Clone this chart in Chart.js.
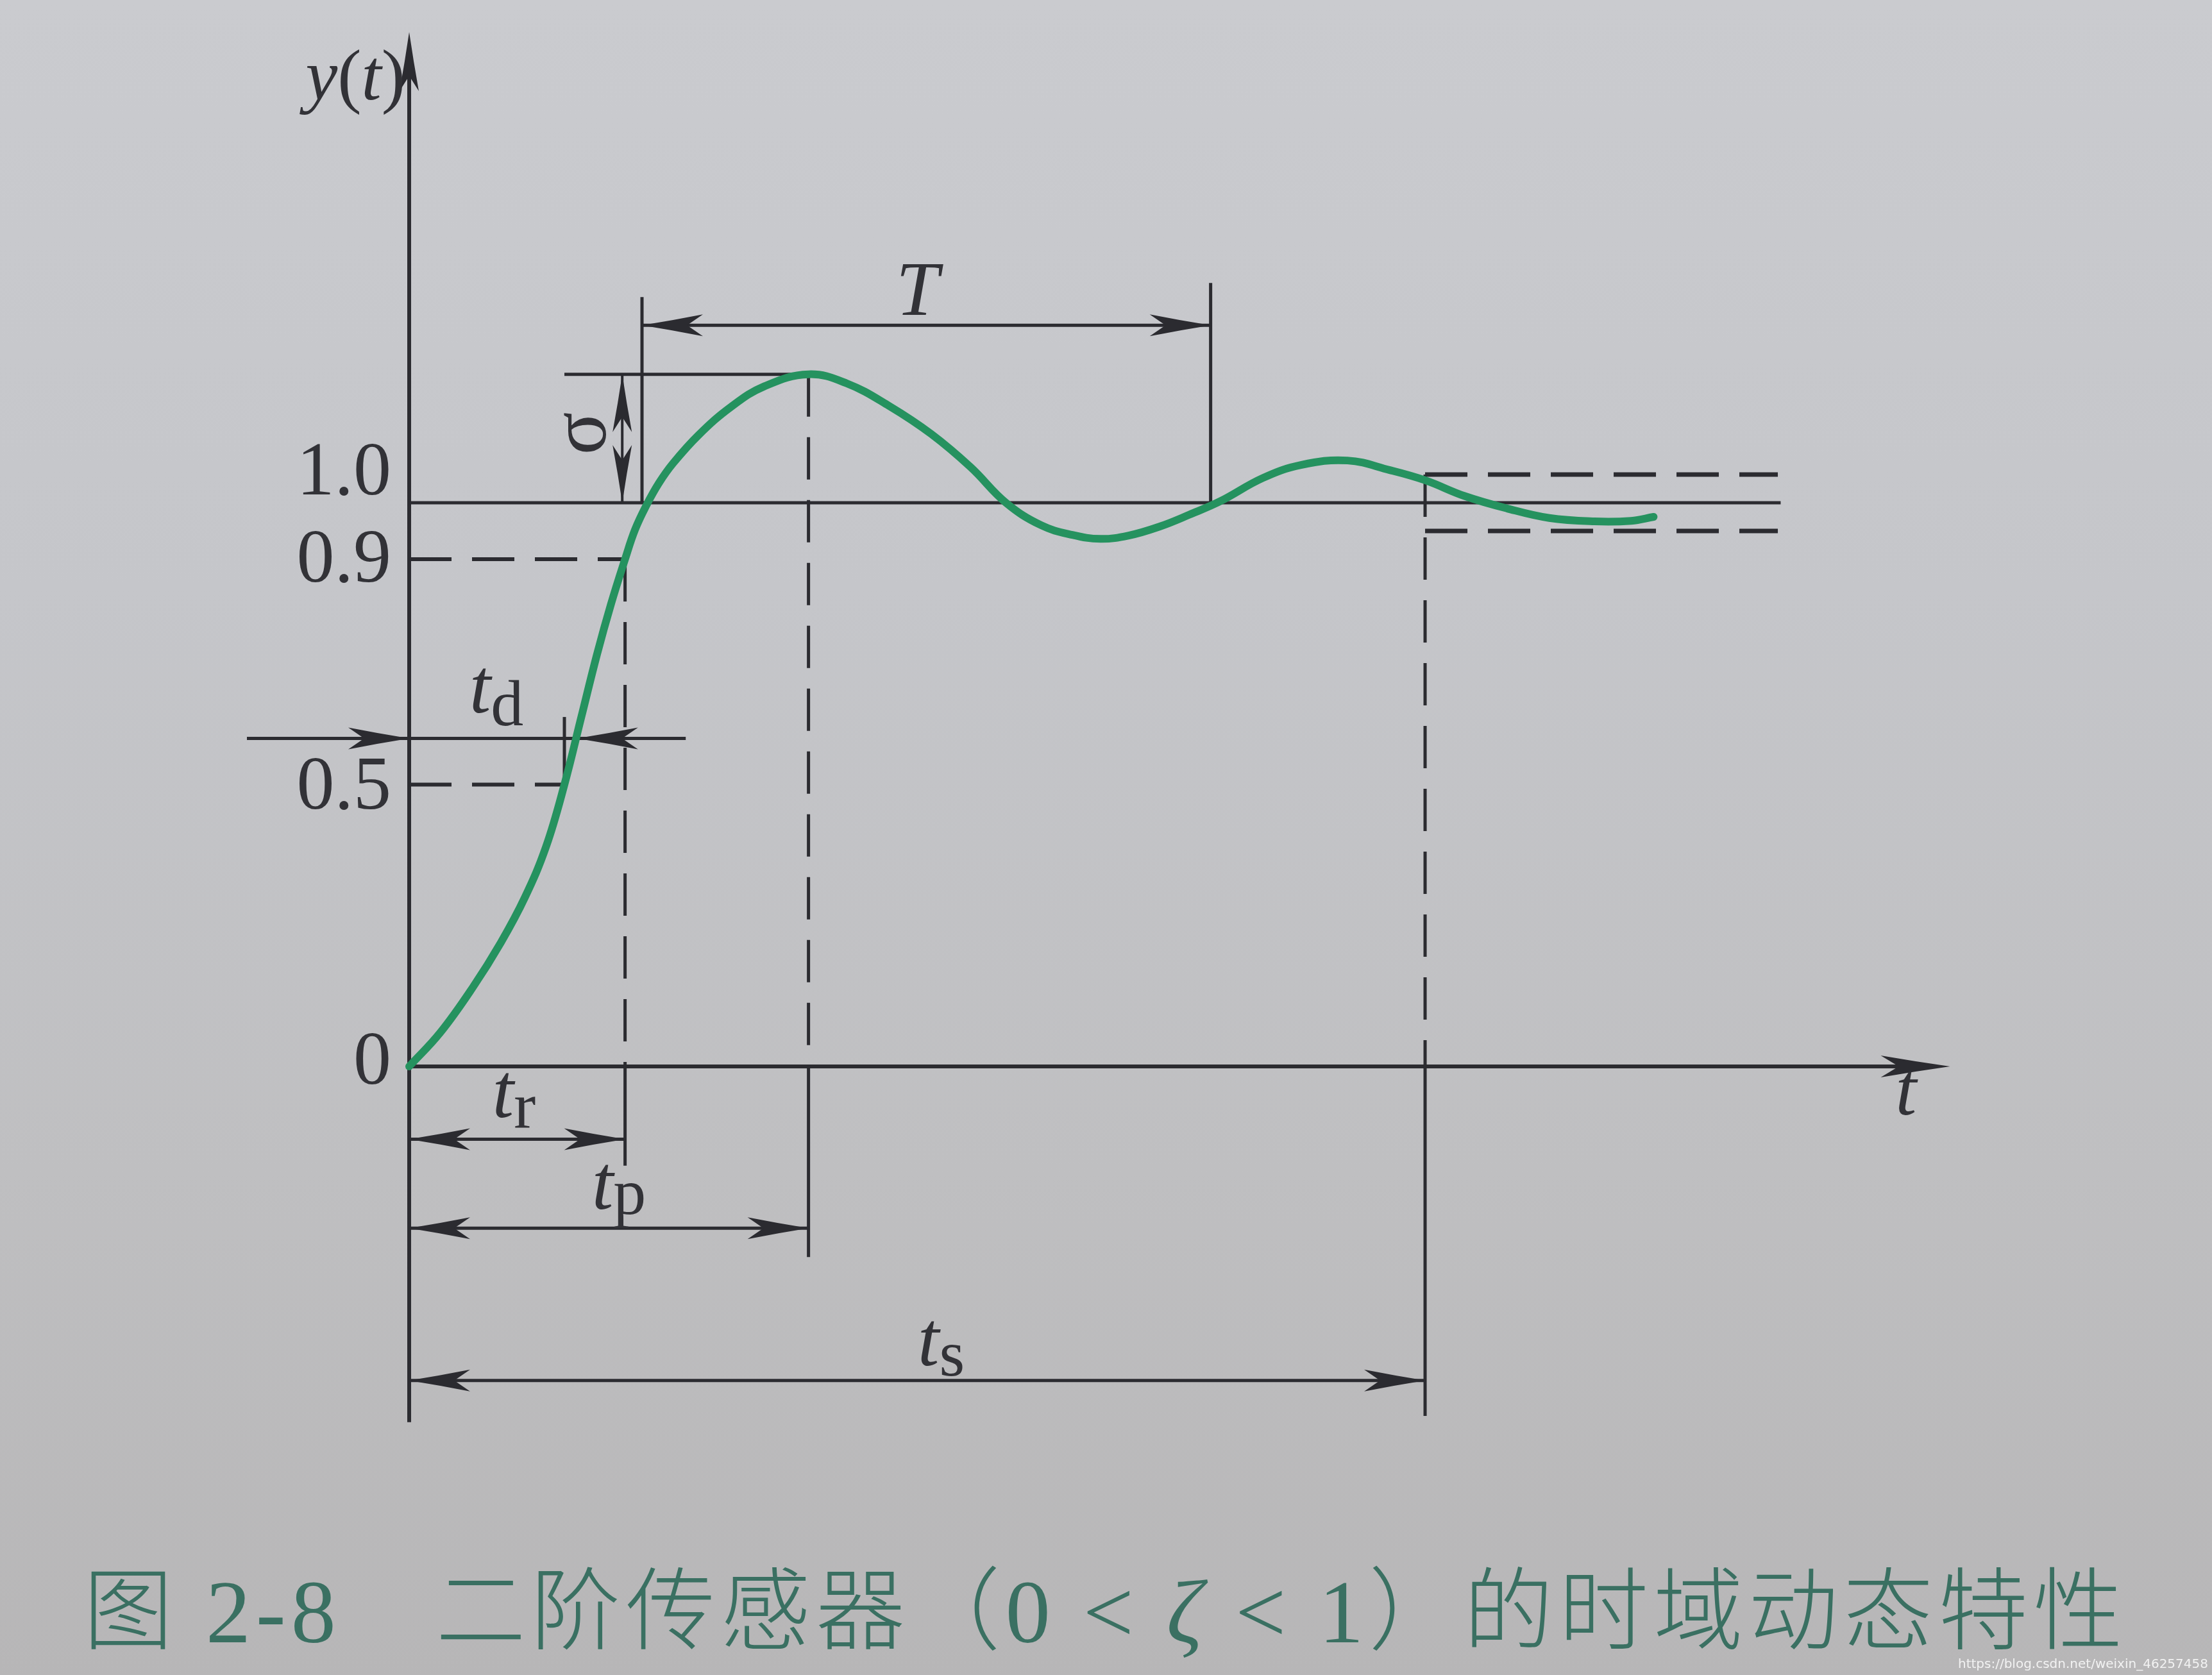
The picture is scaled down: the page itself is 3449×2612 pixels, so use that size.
<!DOCTYPE html>
<html>
<head>
<meta charset="utf-8">
<script src="https://cdn.jsdelivr.net/npm/chart.js@4/dist/chart.umd.min.js"></script>
<style>
html,body{margin:0;padding:0;width:3449px;height:2612px;overflow:hidden;}
body{position:relative;background:linear-gradient(180deg,#cacbcf 0%,#c5c6ca 35%,#bfbfc1 70%,#b7b6b7 100%);}
#c{position:absolute;left:0;top:0;}
#caption{position:absolute;left:130px;top:2410px;font-size:140px;line-height:180px;color:#3a7062;
  font-family:"Liberation Serif","Noto Sans CJK SC";font-weight:400;letter-spacing:8px;white-space:nowrap;}
#caption .cjk{font-family:"Noto Sans CJK SC";font-weight:300;}
#wm{position:absolute;right:6px;bottom:6px;font:20px "DejaVu Sans";color:#f2f2f2;}
</style>
</head>
<body>
<canvas id="c" width="3449" height="2612"></canvas>
<div id="caption"><span class="cjk">图</span> 2-8<span class="cjk">　二阶传感器（</span>0 &lt; <i>ζ</i> &lt; 1<span class="cjk">）的时域动态特性</span></div>
<div id="wm">https://blog.csdn.net/weixin_46257458</div>
<script>
// ---- curve (time in figure units, response y(t)) ----
const curveT = [0, 0.22, 0.45, 0.65, 0.82, 0.97, 1.10, 1.22, 1.33, 1.43, 1.53, 1.60, 1.68, 1.77, 1.87, 2.05, 2.28, 2.52, 2.83,
                3.10, 3.40, 3.70, 3.98, 4.23, 4.48, 4.70, 4.90, 5.10, 5.32, 5.53, 5.75, 6.05, 6.32, 6.65,
                6.95, 7.20, 7.48, 7.78, 8.08, 8.40, 8.66, 8.82];
const curveY = [0, 0.06, 0.14, 0.22, 0.30, 0.39, 0.50, 0.62, 0.73, 0.82, 0.90, 0.952, 0.995, 1.035, 1.07, 1.12, 1.17, 1.207, 1.228,
                1.212, 1.172, 1.122, 1.063, 1.0, 0.96, 0.943, 0.936, 0.942, 0.958, 0.979, 1.003, 1.044, 1.067, 1.075,
                1.058, 1.04, 1.012, 0.99, 0.973, 0.967, 0.968, 0.975];

// ---- y tick marks ----
const yTickValues = [0, 0.5, 0.9, 1.0];
const yTickLabels = ['0', '0.5', '0.9', '1.0'];

// ---- characteristic values ----
const settleLevel = 1.0;
const bandHalfWidth = 0.05;
const tD = 1.10, tR = 1.53, tP = 2.83, tS = 7.2;
const periodStart = 1.65, periodEnd = 5.68;
const peakValue = 1.228;

// ---- extents ----
const xRange = [-2.9, 12.777];
const yRange = [-1.0796, 1.892];
const xAxisEnd = 10.92;
const yAxisRange = [-0.631, 1.835];
const refLineEnd = 9.72, bandEnd = 9.7;

// ---- dimension lines ----
const dimLevels = [1.315, 0.582, -0.129, -0.287, -0.557];   // T, td, tr, tp, ts
const periodLineTops = [1.365, 1.39];
const sigmaAt = 1.51;
const peakLineStart = 1.10;
const tdArrowSpan = [-1.15, 1.96];
const tdTip = 1.19;
const tdTickTop = 0.62;
const dropEnds = [-0.176, -0.338, -0.62];                // tr, tp, ts

const INK = '#2b2b30';
const TEXT = '#323237';
const SERIF = '"Liberation Serif"';
const DASH = [66, 32];

const figurePlugin = {
  id: 'figure',
  beforeDatasetsDraw(chart) {
    const ctx = chart.ctx, xs = chart.scales.x, ys = chart.scales.y;
    const X = v => xs.getPixelForValue(v), Y = v => ys.getPixelForValue(v);
    ctx.save();
    ctx.strokeStyle = INK; ctx.fillStyle = INK; ctx.lineCap = 'butt';
    const seg = (t1, v1, t2, v2, w, dash) => {
      ctx.beginPath(); ctx.setLineDash(dash || []); ctx.lineWidth = w;
      ctx.moveTo(X(t1), Y(v1)); ctx.lineTo(X(t2), Y(v2)); ctx.stroke(); ctx.setLineDash([]);
    };
    const head = (t, v, dx, dy, len, hw) => {
      const tx = X(t), ty = Y(v), px = -dy, py = dx;
      const bx = tx - dx * len, by = ty - dy * len;
      const nx = tx - dx * len * 0.74, ny = ty - dy * len * 0.74;
      ctx.beginPath(); ctx.moveTo(tx, ty);
      ctx.quadraticCurveTo(tx - dx * len * 0.5 + px * hw * 0.45, ty - dy * len * 0.5 + py * hw * 0.45, bx + px * hw, by + py * hw);
      ctx.lineTo(nx, ny); ctx.lineTo(bx - px * hw, by - py * hw);
      ctx.quadraticCurveTo(tx - dx * len * 0.5 - px * hw * 0.45, ty - dy * len * 0.5 - py * hw * 0.45, tx, ty);
      ctx.closePath(); ctx.fill();
    };
    const dbl = (t1, t2, v) => { seg(t1, v, t2, v, 5); head(t1, v, -1, 0, 95, 17); head(t2, v, 1, 0, 95, 17); };

    // axes
    seg(0, yAxisRange[0], 0, yAxisRange[1] - 0.05, 6);
    head(0, yAxisRange[1], 0, -1, 92, 15);
    seg(0, 0, xAxisEnd - 0.2, 0, 6);
    head(xAxisEnd, 0, 1, 0, 108, 17);

    // steady-state line and error band
    seg(0, settleLevel, refLineEnd, settleLevel, 5);
    seg(tS, settleLevel + bandHalfWidth, bandEnd, settleLevel + bandHalfWidth, 7, DASH);
    seg(tS, settleLevel - bandHalfWidth, bandEnd, settleLevel - bandHalfWidth, 7, DASH);
    seg(tS, settleLevel + bandHalfWidth, tS, 0, 5, DASH);
    seg(tS, 0, tS, dropEnds[2], 5);

    // 0.9 and rise time
    seg(0, 0.9, tR, 0.9, 6, DASH);
    seg(tR, 0.9, tR, 0, 5, DASH);
    seg(tR, 0, tR, dropEnds[0], 5);
    // 0.5 and delay time
    seg(0, 0.5, tD, 0.5, 6, DASH);
    seg(tD, 0.5, tD, tdTickTop, 5);
    // peak
    seg(tP, peakValue, tP, 0, 5, DASH);
    seg(tP, 0, tP, dropEnds[1], 5);
    seg(peakLineStart, peakValue, tP, peakValue, 5);
    // overshoot arrow
    seg(sigmaAt, settleLevel, sigmaAt, peakValue, 4);
    head(sigmaAt, peakValue, 0, -1, 90, 15);
    head(sigmaAt, settleLevel, 0, 1, 90, 15);
    // period
    seg(periodStart, settleLevel, periodStart, periodLineTops[0], 5);
    seg(periodEnd, settleLevel, periodEnd, periodLineTops[1], 5);
    dbl(periodStart, periodEnd, dimLevels[0]);
    // td arrows
    seg(tdArrowSpan[0], dimLevels[1], tdArrowSpan[1], dimLevels[1], 5);
    head(0, dimLevels[1], 1, 0, 95, 17);
    head(tdTip, dimLevels[1], -1, 0, 95, 17);
    // tr, tp, ts
    dbl(0, tR, dimLevels[2]);
    dbl(0, tP, dimLevels[3]);
    dbl(0, tS, dimLevels[4]);
    ctx.restore();
  },
  afterDatasetsDraw(chart) {
    const ctx = chart.ctx, xs = chart.scales.x, ys = chart.scales.y;
    const X = v => xs.getPixelForValue(v), Y = v => ys.getPixelForValue(v);
    ctx.save();
    ctx.fillStyle = TEXT;
    // tick labels
    const tickDy = [-4, 6, 4, -44];
    ctx.font = `118px ${SERIF}`; ctx.textAlign = 'right'; ctx.textBaseline = 'middle';
    yTickValues.forEach((v, i) => ctx.fillText(yTickLabels[i], X(0) - 28, Y(v) + tickDy[i]));

    // rich text helper: pieces [text, italic, size, dy]
    const rich = (pieces, x, y, align) => {
      ctx.textAlign = 'left'; ctx.textBaseline = 'alphabetic';
      let w = 0;
      pieces.forEach(p => { ctx.font = `${p[1] ? 'italic ' : ''}${p[2]}px ${SERIF}`; w += ctx.measureText(p[0]).width; });
      let cx = align === 'right' ? x - w : (align === 'center' ? x - w / 2 : x);
      pieces.forEach(p => {
        ctx.font = `${p[1] ? 'italic ' : ''}${p[2]}px ${SERIF}`;
        ctx.fillText(p[0], cx, y + (p[3] || 0));
        cx += ctx.measureText(p[0]).width;
      });
    };
    rich([['y', true, 112], ['(', false, 112], ['t', true, 112], [')', false, 112]], X(0) - 6, Y(yAxisRange[1]) + 105, 'right');
    rich([['t', true, 118]], X(xAxisEnd) - 85, Y(0) + 75, 'left');
    rich([['T', true, 120]], X(3.45), Y(dimLevels[0]) - 16, 'left');
    rich([['t', true, 120], ['d', false, 102, 20]], X(0.427), Y(dimLevels[1]) - 40, 'left');
    rich([['t', true, 120], ['r', false, 102, 16]], X(0.59), Y(dimLevels[2]) - 34, 'left');
    rich([['t', true, 120], ['p', false, 102, 8]], X(1.295), Y(dimLevels[3]) - 30, 'left');
    rich([['t', true, 120], ['s', false, 102, 16]], X(3.605), Y(dimLevels[4]) - 24, 'left');
    // sigma, rotated
    ctx.save();
    ctx.translate(X(1.245), Y(1.123));
    ctx.rotate(-Math.PI / 2);
    ctx.font = `124px ${SERIF}`; ctx.textAlign = 'center'; ctx.textBaseline = 'middle';
    ctx.fillText('σ', 0, 0);
    ctx.restore();
    ctx.restore();
  }
};

new Chart(document.getElementById('c'), {
  type: 'line',
  data: {
    datasets: [{
      data: curveT.map((t, i) => ({ x: t, y: curveY[i] })),
      borderColor: '#25925f',
      borderWidth: 12,
      pointRadius: 0,
      tension: 0.4,
      cubicInterpolationMode: 'default',
      borderCapStyle: 'round',
      borderJoinStyle: 'round',
      fill: false
    }]
  },
  options: {
    responsive: false,
    animation: false,
    devicePixelRatio: 1,
    layout: { padding: 0 },
    plugins: { legend: { display: false }, tooltip: { enabled: false } },
    scales: {
      x: { type: 'linear', min: xRange[0], max: xRange[1], display: false },
      y: { type: 'linear', min: yRange[0], max: yRange[1], display: false }
    }
  },
  plugins: [figurePlugin]
});
</script>
</body>
</html>
